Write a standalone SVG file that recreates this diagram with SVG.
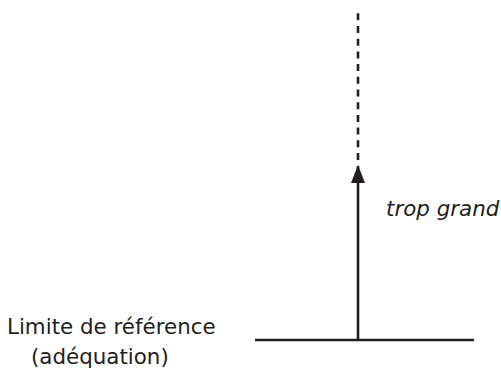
<svg xmlns="http://www.w3.org/2000/svg" width="501" height="372" viewBox="0 0 501 372">
<style>
.t{font-family:"DejaVu Sans",Verdana,sans-serif;font-size:21.4px;fill:#231f20}
.ln{stroke:#231f20;stroke-width:2.6;fill:none}
</style>
<defs>
<marker id="ah" markerWidth="18" markerHeight="14" refX="17" refY="7" orient="auto" markerUnits="userSpaceOnUse" viewBox="0 0 18 14"><path d="M18,7 L0,0 L0,14 Z" fill="#231f20"/></marker>
</defs>
<rect width="501" height="372" fill="#fff"/>
<g id="reference">
<line class="ln" x1="255" y1="340" x2="474" y2="340"/>
<text class="t" x="7" y="334">Limite de référence</text>
<text class="t" x="31" y="364">(adéquation)</text>
</g>
<g id="connectors">
<line class="ln" x1="358" y1="339" x2="358" y2="166" marker-end="url(#ah)"/>
<line class="ln" x1="358" y1="160" x2="358" y2="8" stroke-dasharray="7,5.7"/>
</g>
<g id="label">
<text class="t" x="386" y="216" font-style="italic">trop grand</text>
</g>
</svg>
